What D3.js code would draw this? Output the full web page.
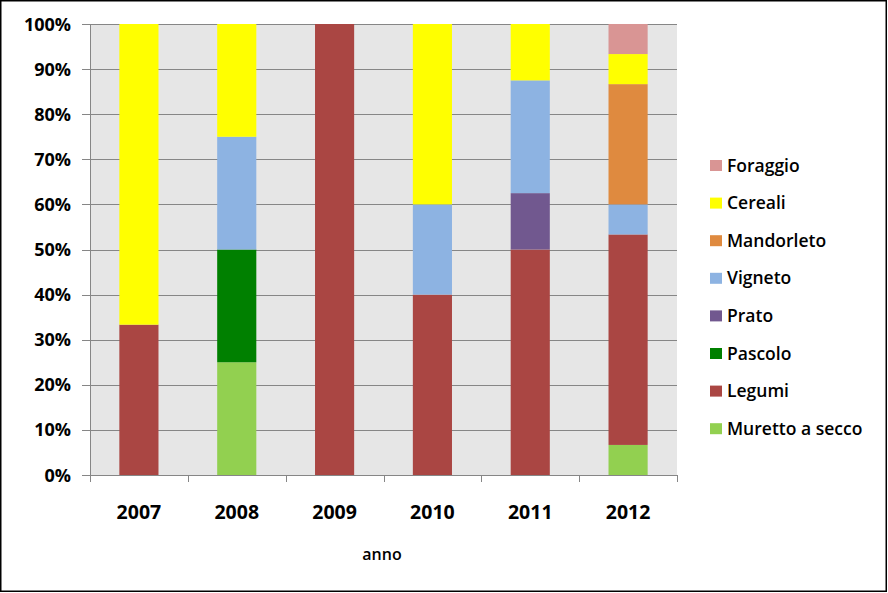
<!DOCTYPE html>
<html>
<head>
<meta charset="utf-8">
<script src="https://cdn.jsdelivr.net/npm/d3@7"></script>
<style>
html,body{margin:0;padding:0;background:#fff;}
svg{display:block;}
</style>
</head>
<body>
<svg id="chart" width="888" height="593"></svg>
<script>
const years = ["2007","2008","2009","2010","2011","2012"];
const seriesNames = ["Muretto a secco","Legumi","Pascolo","Prato","Vigneto","Mandorleto","Cereali","Foraggio"];
const seriesColors = ["#92D050","#AA4643","#008000","#71588F","#8DB3E2","#DF8A3F","#FFFF00","#D99594"];
// percentages per year, in stack order (bottom to top)
const murettoValues   = [0, 25, 0, 0, 0, 6.667];
const legumiValues    = [33.333, 0, 100, 40, 50, 46.667];
const pascoloValues   = [0, 25, 0, 0, 0, 0];
const pratoValues     = [0, 0, 0, 0, 12.5, 0];
const vignetoValues   = [0, 25, 0, 20, 25, 6.667];
const mandorletoValues= [0, 0, 0, 0, 0, 26.667];
const cerealiValues   = [66.667, 25, 0, 40, 12.5, 6.667];
const foraggioValues  = [0, 0, 0, 0, 0, 6.667];
const yTicks = [0,10,20,30,40,50,60,70,80,90,100];
const xTitle = "anno";

const allValues = [murettoValues, legumiValues, pascoloValues, pratoValues, vignetoValues, mandorletoValues, cerealiValues, foraggioValues];
const table = years.map((yr,i)=>{
  const row = {year:yr};
  seriesNames.forEach((s,k)=>row[s]=allValues[k][i]);
  return row;
});

const svg = d3.select("#chart");
const font = "'Open Sans', 'Liberation Sans', sans-serif";
svg.append("rect").attr("x",0.75).attr("y",0.75).attr("width",885.5).attr("height",590.5)
  .attr("fill","#fff").attr("stroke","#000").attr("stroke-width",1.5);

const pLeft=90, pRight=677, pTop=24, pBottom=475;
const x = d3.scaleBand().domain(years).range([pLeft,pRight]).paddingInner(0.6).paddingOuter(0.3);
const xb = d3.scaleBand().domain(years).range([pLeft,pRight]);
const y = d3.scaleLinear().domain([0,100]).range([pBottom,pTop]);

svg.append("rect").attr("x",pLeft).attr("y",pTop).attr("width",pRight-pLeft).attr("height",pBottom-pTop).attr("fill","#E6E6E6");

// gridlines and y ticks
svg.append("g").selectAll("line").data(yTicks).join("line")
  .attr("x1",pLeft-8).attr("x2",pRight)
  .attr("y1",d=>Math.round(y(d))+0.5).attr("y2",d=>Math.round(y(d))+0.5)
  .attr("stroke","#868686").attr("stroke-width",1);

// stacked bars
const stack = d3.stack().keys(seriesNames)(table);
svg.append("g").selectAll("g").data(stack).join("g")
  .attr("fill",(d,i)=>seriesColors[i])
  .selectAll("rect").data(d=>d).join("rect")
  .attr("x",d=>x(d.data.year)).attr("width",x.bandwidth())
  .attr("y",d=>y(d[1])).attr("height",d=>Math.max(0,y(d[0])-y(d[1])));

// y axis line
svg.append("line").attr("x1",pLeft+0.5).attr("x2",pLeft+0.5).attr("y1",pTop).attr("y2",pBottom)
  .attr("stroke","#868686");
// x axis ticks
const bounds = years.map(d=>xb(d)).concat([pRight]);
svg.append("g").selectAll("line").data(bounds).join("line")
  .attr("x1",d=>Math.round(d)+0.5).attr("x2",d=>Math.round(d)+0.5)
  .attr("y1",pBottom).attr("y2",pBottom+7).attr("stroke","#868686");

// y labels
svg.append("g").selectAll("text").data(yTicks).join("text")
  .attr("x",71).attr("y",d=>y(d)+6.5).attr("text-anchor","end")
  .attr("font-family",font).attr("font-weight","bold").attr("font-size",18)
  .attr("fill","#000").text(d=>d+"%");

// x labels
svg.append("g").selectAll("text").data(years).join("text")
  .attr("x",d=>xb(d)+xb.bandwidth()/2).attr("y",519).attr("text-anchor","middle")
  .attr("font-family",font).attr("font-weight","bold").attr("font-size",19.5)
  .attr("fill","#000").text(d=>d);

svg.append("text").attr("x",382).attr("y",560).attr("text-anchor","middle")
  .attr("font-family",font).attr("font-weight",600).attr("font-size",16).text(xTitle);

// legend (reverse order)
const legendItems = seriesNames.map((s,i)=>({name:s,color:seriesColors[i]})).reverse();
const lg = svg.append("g").selectAll("g").data(legendItems).join("g")
  .attr("transform",(d,i)=>`translate(710,${165+i*37.6})`);
lg.append("rect").attr("x",0).attr("y",-5).attr("width",12).attr("height",11).attr("fill",d=>d.color);
lg.append("text").attr("x",17).attr("y",6.5)
  .attr("font-family",font).attr("font-weight",600).attr("font-size",17.5).attr("fill","#000").text(d=>d.name);
</script>
</body>
</html>
